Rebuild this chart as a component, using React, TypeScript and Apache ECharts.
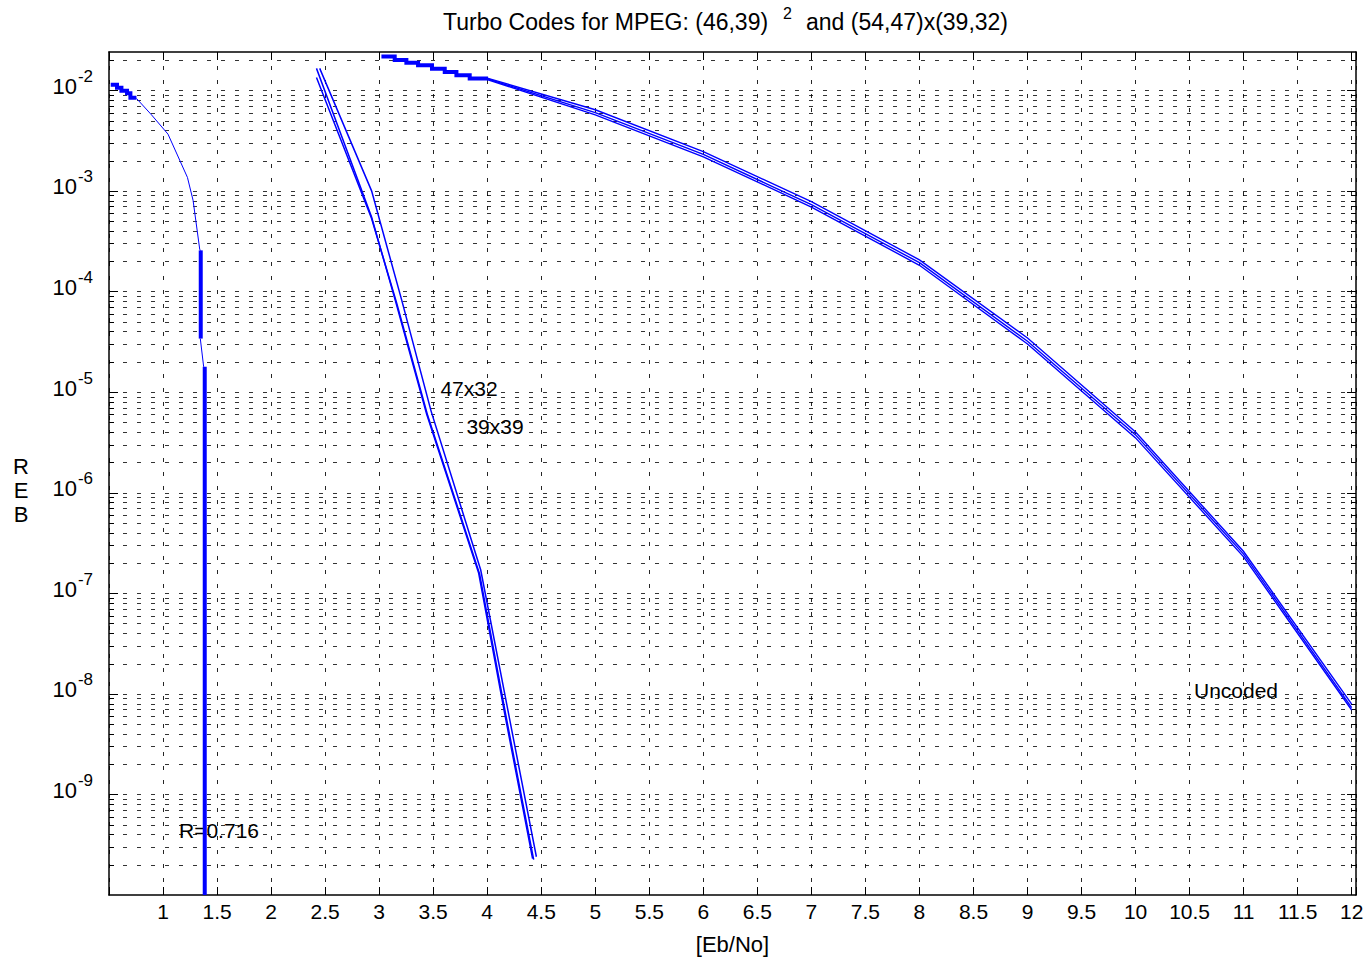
import React, { useEffect, useRef } from "react";
import * as echarts from "echarts";

// ---------- axis ranges ----------
const X_MIN = 0.5;
const X_MAX = 12.04;
const X_STEP = 0.5;
const Y_MIN = 1e-10;
const Y_MAX = 0.024;
const Y_LABEL_EXPONENTS = [-2, -3, -4, -5, -6, -7, -8, -9];

// ---------- data ----------
// R=0.716 limit curve (left)
const leftStairs = [
  [0.516, 0.01137], [0.574, 0.01061], [0.615, 0.0099], [0.667, 0.00933],
  [0.698, 0.00844], [0.754, 0.00844],
];
const leftThin = [
  [0.754, 0.0083], [0.893, 0.0057], [1.046, 0.00366], [1.226, 0.00136],
  [1.278, 8.05e-4], [1.34, 2.6e-4], [1.349, 2.56e-4],
];
const leftBar1 = [[1.349, 2.56e-4], [1.349, 3.4e-5]];
const leftThin2 = [[1.345, 3.4e-5], [1.376, 1.78e-5]];
const leftBar2 = [[1.386, 1.78e-5], [1.386, 1e-10]];

// Coded curves (47x32, 39x39 ...)
const codedA = [
  [2.45, 0.0165], [2.93, 1.0e-3], [3.21, 8.1e-5], [3.48, 6.5e-6],
  [3.94, 1.7e-7], [4.19, 7.0e-9], [4.455, 2.4e-10],
];
const codedB = [
  [2.42, 0.0165], [2.93, 5.5e-4], [3.15, 8.1e-5], [3.44, 6.0e-6],
  [3.92, 1.6e-7], [4.16, 6.5e-9], [4.42, 2.3e-10],
];
const codedC = [
  [2.42, 0.0134], [2.93, 5.3e-4], [3.16, 7.8e-5], [3.45, 5.8e-6],
  [3.93, 1.55e-7], [4.17, 6.3e-9], [4.43, 2.25e-10],
];

// Uncoded curves
const uncodedStairs = [
  [3.021, 0.0216], [3.144, 0.02], [3.252, 0.0188], [3.36, 0.01774],
  [3.489, 0.0164], [3.607, 0.0152], [3.715, 0.0141], [3.838, 0.0131],
  [4.008, 0.0131],
];
const uncodedA = [
  [4.0, 0.013], [5, 6.0e-3], [6, 2.3e-3], [7, 7.3e-4], [8, 1.93e-4],
  [9, 3.2e-5], [10, 3.75e-6], [11, 2.45e-7], [12, 7.3e-9],
];
const uncodedB = [
  [4.0, 0.0132], [5, 6.4e-3], [6, 2.45e-3], [7, 7.8e-4], [8, 2.06e-4],
  [9, 3.45e-5], [10, 4.0e-6], [11, 2.6e-7], [12, 7.9e-9],
];
const uncodedC = [
  [4.0, 0.0128], [5, 5.7e-3], [6, 2.18e-3], [7, 6.9e-4], [8, 1.82e-4],
  [9, 3.0e-5], [10, 3.5e-6], [11, 2.3e-7], [12, 6.9e-9],
];

const FONT = "'Liberation Sans', Arial, Helvetica, sans-serif";
const BLUE = "#0000ff";

function buildGridRows() {
  const rows: number[][] = [];
  for (let e = -10; e <= -2; e++) {
    for (let m = 1; m <= 9; m++) {
      const v = m * Math.pow(10, e);
      if (v <= Y_MIN * 1.0001 || v >= Y_MAX) continue;
      rows.push([X_MIN, v, m === 1 ? 1 : 0]);
    }
  }
  return rows;
}

function curve(name: string, data: number[][], width: number, step?: string) {
  return {
    name,
    type: "line",
    data,
    symbol: "none",
    showSymbol: false,
    step: step || false,
    silent: true,
    z: 3,
    lineStyle: { color: BLUE, width, cap: "butt", join: "miter" },
    itemStyle: { color: BLUE },
  };
}

export default function App() {
  const ref = useRef<HTMLDivElement>(null);
  useEffect(() => {
    if (!ref.current) return;
    const chart = echarts.init(ref.current, undefined, { renderer: "svg" });
    const option: any = {
      animation: false,
      backgroundColor: "#fff",
      textStyle: { fontFamily: FONT },
      grid: { left: 109, top: 52, right: 15, bottom: 69, containLabel: false, outerBoundsMode: "none" },
      xAxis: [
        {
          type: "value",
          min: X_MIN,
          max: X_MAX,
          interval: X_STEP,
          position: "bottom",
          name: "[Eb/No]",
          nameLocation: "middle",
          nameGap: 38,
          nameTextStyle: { fontSize: 22, color: "#000", fontFamily: FONT },
          axisLine: { show: true, onZero: false, lineStyle: { color: "#000", width: 1.5 } },
          axisTick: { show: true, inside: true, length: 8, lineStyle: { color: "#000" } },
          axisLabel: {
            fontSize: 21,
            color: "#000",
            fontFamily: FONT,
            margin: 6,
            formatter: (v: number) => {
              if (v < 0.75 || v > 12.01) return "";
              if (Math.abs(v * 2 - Math.round(v * 2)) > 1e-6) return "";
              return String(v);
            },
          },
          splitLine: { show: true, lineStyle: { color: "#000", width: 1, type: [4, 10], opacity: 0.85 } },
        },
        {
          type: "value",
          min: X_MIN,
          max: X_MAX,
          interval: X_STEP,
          position: "top",
          axisLine: { show: true, onZero: false, lineStyle: { color: "#000", width: 1.5 } },
          axisTick: { show: true, inside: true, length: 8, lineStyle: { color: "#000" } },
          axisLabel: { show: false },
          splitLine: { show: false },
        },
      ],
      yAxis: [
        {
          type: "log",
          logBase: 10,
          min: Y_MIN,
          max: Y_MAX,
          splitNumber: 10,
          position: "left",
          axisLine: { show: true, onZero: false, lineStyle: { color: "#000", width: 1.5 } },
          axisTick: { show: false },
          splitLine: { show: false },
          axisLabel: {
            margin: 16,
            color: "#000",
            formatter: (v: number) => {
              const lg = Math.log10(v);
              const e = Math.round(lg);
              if (Math.abs(lg - e) > 1e-6) return "";
              if (Y_LABEL_EXPONENTS.indexOf(e) < 0) return "";
              return `{b|10}{s|${e}}`;
            },
            rich: {
              b: { fontSize: 22, fontFamily: FONT, color: "#000", padding: [0, 1, 8, 0] },
              s: { fontSize: 17, fontFamily: FONT, color: "#000", padding: [0, 0, 28, 0] },
            },
          },
        },
        {
          type: "log",
          logBase: 10,
          min: Y_MIN,
          max: Y_MAX,
          splitNumber: 10,
          position: "right",
          axisLine: { show: true, onZero: false, lineStyle: { color: "#000", width: 1.5 } },
          axisTick: { show: false },
          axisLabel: { show: false },
          splitLine: { show: false },
        },
      ],
      series: [
        {
          type: "custom",
          coordinateSystem: "cartesian2d",
          silent: true,
          z: 1,
          data: buildGridRows(),
          renderItem: (params: any, api: any) => {
            const v = api.value(1);
            const a = api.coord([X_MIN, v]);
            const b = api.coord([X_MAX, v]);
            const len = api.value(2) ? 9 : 5;
            const y = Math.round(a[1]) + 0.5;
            return {
              type: "group",
              children: [
                { type: "line", shape: { x1: a[0], y1: y, x2: b[0], y2: y }, style: { stroke: "#000", lineWidth: 1, lineDash: [4, 10], opacity: 0.8 } },
                { type: "line", shape: { x1: a[0], y1: y, x2: a[0] + len, y2: y }, style: { stroke: "#000", lineWidth: 1 } },
                { type: "line", shape: { x1: b[0] - len, y1: y, x2: b[0], y2: y }, style: { stroke: "#000", lineWidth: 1 } },
              ],
            };
          },
        },
        curve("R=0.716 steps", leftStairs, 4, "end"),
        curve("R=0.716", leftThin, 1),
        curve("R=0.716 bar 1", leftBar1, 4),
        curve("R=0.716 link", leftThin2, 1),
        curve("R=0.716 bar 2", leftBar2, 4),
        curve("Coded A", codedA, 1.5),
        curve("Coded B", codedB, 1.5),
        curve("Coded C", codedC, 1.5),
        curve("Uncoded steps", uncodedStairs, 4, "end"),
        curve("Uncoded A", uncodedA, 1.4),
        curve("Uncoded B", uncodedB, 1.4),
        curve("Uncoded C", uncodedC, 1.4),
      ],
      graphic: [
        { type: "text", x: 443, y: 22, z: 1, style: { text: "Turbo Codes for MPEG: (46,39)", fontSize: 23, fontFamily: FONT, fill: "#000", align: "left", verticalAlign: "middle" } },
        { type: "text", x: 783, y: 13, z: 1, style: { text: "2", fontSize: 16, fontFamily: FONT, fill: "#000", align: "left", verticalAlign: "middle" } },
        { type: "text", x: 806, y: 22, z: 1, style: { text: "and (54,47)x(39,32)", fontSize: 23, fontFamily: FONT, fill: "#000", align: "left", verticalAlign: "middle" } },
        { type: "text", x: 21, y: 490, z: 1, style: { text: "R\nE\nB", fontSize: 22, lineHeight: 24, fontFamily: FONT, fill: "#000", align: "center", verticalAlign: "middle" } },
        { type: "text", x: 469, y: 388, z: 1, style: { text: "47x32", fontSize: 21, fontFamily: FONT, fill: "#000", align: "center", verticalAlign: "middle" } },
        { type: "text", x: 495, y: 426, z: 1, style: { text: "39x39", fontSize: 21, fontFamily: FONT, fill: "#000", align: "center", verticalAlign: "middle" } },
        { type: "text", x: 219, y: 830, z: 1, style: { text: "R=0.716", fontSize: 21, fontFamily: FONT, fill: "#000", align: "center", verticalAlign: "middle" } },
        { type: "text", x: 1236, y: 690, z: 1, style: { text: "Uncoded", fontSize: 21, fontFamily: FONT, fill: "#000", align: "center", verticalAlign: "middle" } },
      ],
    };
    chart.setOption(option);
    return () => chart.dispose();
  }, []);
  return (
    <div
      ref={ref}
      style={{ position: "absolute", left: 0, top: 0, width: 1371, height: 964, background: "#fff" }}
    />
  );
}
